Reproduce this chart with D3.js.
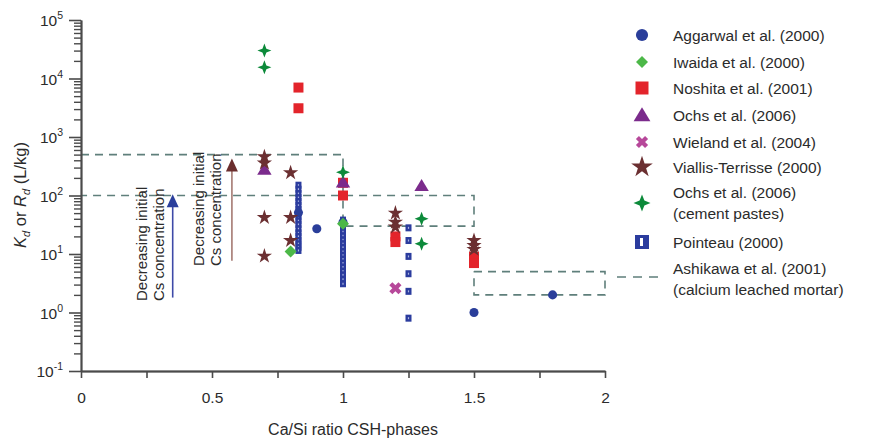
<html>
<head>
<script src="https://d3js.org/d3.v7.min.js"></script>
<style>
body { margin: 0; background: #fff; }
text { font-family: "Liberation Sans", Arial, sans-serif; fill: #2b2b2b; }
</style>
</head>
<body>
<script>

// data: [Ca/Si ratio, Kd (L/kg)]
var aggarwal = [[0.83, 51], [0.9, 27], [1.0, 35], [1.5, 1.0], [1.8, 2.0]];
var iwaida = [[0.8, 11], [1.0, 33]];
var noshita = [[0.83, 7000], [0.83, 3100], [1.0, 165], [1.0, 100], [1.2, 20], [1.2, 16], [1.5, 9], [1.5, 7]];
var ochs = [[0.7, 280], [1.0, 170], [1.3, 148]];
var wieland = [[1.2, 2.6]];
var viallis = [[0.7, 460], [0.7, 360], [0.7, 42], [0.7, 9.2], [0.8, 245], [0.8, 42], [0.8, 17],
               [1.2, 50], [1.2, 35], [1.2, 29], [1.5, 17], [1.5, 14], [1.5, 12]];
var ochsCement = [[0.7, 30000], [0.7, 15500], [1.0, 250], [1.3, 40], [1.3, 15]];
var pointeau = [[0.83, 150], [0.83, 128], [0.83, 108], [0.83, 92], [0.83, 79], [0.83, 68], [0.83, 58],
                [0.83, 50], [0.83, 43], [0.83, 37], [0.83, 32], [0.83, 27], [0.83, 23], [0.83, 20],
                [0.83, 17], [0.83, 15], [0.83, 13], [0.83, 11.5],
                [1.0, 38], [1.0, 33], [1.0, 28], [1.0, 24], [1.0, 20.5], [1.0, 17.5], [1.0, 15], [1.0, 13],
                [1.0, 11], [1.0, 9.5], [1.0, 8.2], [1.0, 7], [1.0, 6], [1.0, 5.1], [1.0, 4.4], [1.0, 3.7], [1.0, 3.1],
                [1.25, 28], [1.25, 17], [1.25, 9.1], [1.25, 4.6], [1.25, 2.3], [1.25, 0.8]];

// Ashikawa et al. (2001) ranges, drawn as dashed outlines
var ashikawaA = [[0, 500], [1.0, 500], [1.0, 30], [1.5, 30], [1.5, 100], [0, 100]];
var ashikawaB = [[1.5, 5], [2.0, 5], [2.0, 2], [1.5, 2], [1.5, 5]];

var legendNames = ["Aggarwal et al. (2000)", "Iwaida et al. (2000)", "Noshita et al. (2001)",
                   "Ochs et al. (2006)", "Wieland et al. (2004)", "Viallis-Terrisse (2000)",
                   "Ochs et al. (2006)|(cement pastes)", "Pointeau (2000)",
                   "Ashikawa et al. (2001)|(calcium leached mortar)"];

var xTicks = [0, 0.5, 1, 1.5, 2];
var xMinor = [0.25, 0.75, 1.25, 1.75];
var yExp = [-1, 0, 1, 2, 3, 4, 5];

var width = 883, height = 440;
var svg = d3.select("body").append("svg")
    .attr("width", width)
    .attr("height", height);

var x = d3.scaleLinear().domain([0, 2]).range([81, 605]);
var y = d3.scaleLog().domain([0.1, 1e5]).range([371, 20]);

var axisColor = "#4a4a4a";

// dashed Ashikawa outlines
var line = d3.line().x(function(d) { return x(d[0]); }).y(function(d) { return y(d[1]); });
[ashikawaA, ashikawaB].forEach(function(p) {
  svg.append("path").attr("d", line(p))
    .attr("fill", "none").attr("stroke", "#5f7f7b")
    .attr("stroke-width", 1.6).attr("stroke-dasharray", "8,6");
});

// y axis: minor then major ticks
var minorVals = [];
for (var e = -1; e < 5; e++) for (var m = 2; m < 10; m++) minorVals.push(m * Math.pow(10, e));
svg.append("g").attr("transform", "translate(81,0)")
  .call(d3.axisLeft(y).tickValues(minorVals).tickSize(7).tickSizeOuter(0).tickFormat(""))
  .call(function(g) { g.selectAll("line,path").attr("stroke", axisColor).attr("stroke-width", 1.4); });
var yAx = svg.append("g").attr("transform", "translate(81,0)")
  .call(d3.axisLeft(y).tickValues(yExp.map(function(k) { return Math.pow(10, k); }))
        .tickSize(12).tickSizeOuter(0).tickFormat(""));
yAx.select("path").attr("stroke", axisColor).attr("stroke-width", 2);
yAx.selectAll("line").attr("stroke", axisColor).attr("stroke-width", 1.6);

yExp.forEach(function(k) {
  var t = svg.append("text").attr("x", 63).attr("y", y(Math.pow(10, k)) + 6)
    .attr("text-anchor", "end").style("font-size", "15.5px");
  t.append("tspan").text("10");
  t.append("tspan").attr("dy", -7).style("font-size", "10.5px").text(String(k));
});

// x axis
svg.append("g").attr("transform", "translate(0,371)")
  .call(d3.axisBottom(x).tickValues(xMinor).tickSize(7).tickSizeOuter(0).tickFormat(""))
  .call(function(g) { g.selectAll("line,path").attr("stroke", axisColor).attr("stroke-width", 1.6); });
var xAx = svg.append("g").attr("transform", "translate(0,371)")
  .call(d3.axisBottom(x).tickValues(xTicks).tickSize(7).tickSizeOuter(0).tickFormat(d3.format("")));
xAx.select("path").attr("stroke", axisColor).attr("stroke-width", 2);
xAx.selectAll("line").attr("stroke", axisColor).attr("stroke-width", 1.6);
xAx.selectAll("text").attr("y", 21).style("font-size", "15.5px")
  .style("font-family", "'Liberation Sans', Arial, sans-serif").attr("fill", "#2b2b2b");

svg.append("text").attr("x", 353).attr("y", 435).attr("text-anchor", "middle")
  .style("font-size", "16px").text("Ca/Si ratio CSH-phases");

var yt = svg.append("text").attr("transform", "translate(26,195) rotate(-90)")
  .attr("text-anchor", "middle").style("font-size", "16.5px");
yt.append("tspan").style("font-style", "italic").text("K");
yt.append("tspan").attr("dy", 4).style("font-size", "11px").style("font-style", "italic").text("d");
yt.append("tspan").attr("dy", -4).text(" or ");
yt.append("tspan").style("font-style", "italic").text("R");
yt.append("tspan").attr("dy", 4).style("font-size", "11px").style("font-style", "italic").text("d");
yt.append("tspan").attr("dy", -4).text(" (L/kg)");

// annotation arrows (line + filled head), with two rotated text lines to the left
function arrow(xv, k0, k1, lineCol, headCol, textCol, lines, textStart, textX) {
  var px = x(xv), tip = y(k1);
  svg.append("line").attr("x1", px).attr("x2", px).attr("y1", y(k0)).attr("y2", tip + 8)
    .attr("stroke", lineCol).attr("stroke-width", 1.6);
  svg.append("path")
    .attr("d", "M" + px + "," + tip + "L" + (px + 6) + "," + (tip + 13) + "L" + (px - 6) + "," + (tip + 13) + "Z")
    .attr("fill", headCol);
  lines.forEach(function(s, i) {
    svg.append("text")
      .attr("transform", "translate(" + (textX + i * 16.5) + "," + textStart + ") rotate(-90)")
      .attr("fill", textCol).style("font-size", "15px").text(s);
  });
}
arrow(0.35, 1.8, 105, "#3e4aa8", "#2b3f9c", "#3e4aa8", ["Decreasing initial", "Cs concentration"], 301, 147);
arrow(0.576, 7.7, 430, "#a57a72", "#6b2e2e", "#a0685c", ["Decreasing initial", "Cs concentration"], 266, 204);

// marker shapes
function fourStar(r) {
  var w = r * 0.28;
  return "M0," + (-r) + "L" + w + "," + (-w) + "L" + r + ",0L" + w + "," + w + "L0," + r +
         "L" + (-w) + "," + w + "L" + (-r) + ",0L" + (-w) + "," + (-w) + "Z";
}
var shapes = {
  circle: function(s) { return d3.symbol(d3.symbolCircle, s * s * 0.8)(); },
  diamond: function(s) { return "M0," + (-s / 2) + "L" + (s / 2) + ",0L0," + (s / 2) + "L" + (-s / 2) + ",0Z"; },
  square: function(s) { return "M" + (-s / 2) + "," + (-s / 2) + "h" + s + "v" + s + "h" + (-s) + "Z"; },
  triangle: function(s) { return "M0," + (-s * 0.55) + "L" + (s * 0.6) + "," + (s * 0.45) + "L" + (-s * 0.6) + "," + (s * 0.45) + "Z"; },
  cross: function(s) { return d3.symbol(d3.symbolCross, s * s * 0.55)(); },
  star: function(s) { return d3.symbol(d3.symbolStar, s * s * 0.5)(); },
  four: function(s) { return fourStar(s / 2); }
};

var series = [
  {data: aggarwal, shape: "circle", size: 9, color: "#2a3e9a", rot: 0},
  {data: iwaida, shape: "diamond", size: 12, color: "#4cb848", rot: 0},
  {data: noshita, shape: "square", size: 10, color: "#e3242b", rot: 0},
  {data: ochs, shape: "triangle", size: 12, color: "#7b2b8c", rot: 0},
  {data: wieland, shape: "cross", size: 13, color: "#b7489a", rot: 45},
  {data: viallis, shape: "star", size: 12, color: "#6b2f31", rot: 0},
  {data: ochsCement, shape: "four", size: 14, color: "#0c8a3a", rot: 0}
];

// Pointeau: small stacked blue rectangles with a light centre dot
var pg = svg.append("g");
pointeau.forEach(function(d) {
  pg.append("rect").attr("x", x(d[0]) - 3).attr("y", y(d[1]) - 3.5).attr("width", 6).attr("height", 7)
    .attr("fill", "#2b3c9e");
  pg.append("rect").attr("x", x(d[0]) - 0.6).attr("y", y(d[1]) - 1).attr("width", 1.2).attr("height", 2)
    .attr("fill", "#aab4e0");
});

series.forEach(function(s) {
  svg.append("g").selectAll("path").data(s.data).enter().append("path")
    .attr("d", shapes[s.shape](s.size))
    .attr("transform", function(d) { return "translate(" + x(d[0]) + "," + y(d[1]) + ") rotate(" + s.rot + ")"; })
    .attr("fill", s.color);
});

// legend
var legRows = [35, 62, 88, 115, 142, 167, 192, 242, 268];
var lg = svg.append("g");
legendNames.forEach(function(name, i) {
  var parts = name.split("|");
  var ty = legRows[i];
  var my = parts.length > 1 ? ty + 11 : ty;
  if (i < 7) {
    var s = series[i];
    var sz = [12, 12, 13, 14, 13, 17, 17][i];
    lg.append("path").attr("d", shapes[s.shape](sz))
      .attr("transform", "translate(642," + my + ") rotate(" + s.rot + ")")
      .attr("fill", s.color);
  } else if (i === 7) {
    lg.append("rect").attr("x", 635).attr("y", my - 7).attr("width", 14).attr("height", 14).attr("fill", "#2b3c9e");
    lg.append("rect").attr("x", 640).attr("y", my - 4).attr("width", 3).attr("height", 8).attr("fill", "#fff");
  } else {
    lg.append("line").attr("x1", 617).attr("x2", 665).attr("y1", my - 2).attr("y2", my - 2)
      .attr("stroke", "#5f7f7b").attr("stroke-width", 1.6).attr("stroke-dasharray", "9,7");
  }
  parts.forEach(function(p, j) {
    lg.append("text").attr("x", 673).attr("y", ty + 6 + j * 21).style("font-size", "15.5px").text(p);
  });
});

</script>
</body>
</html>
